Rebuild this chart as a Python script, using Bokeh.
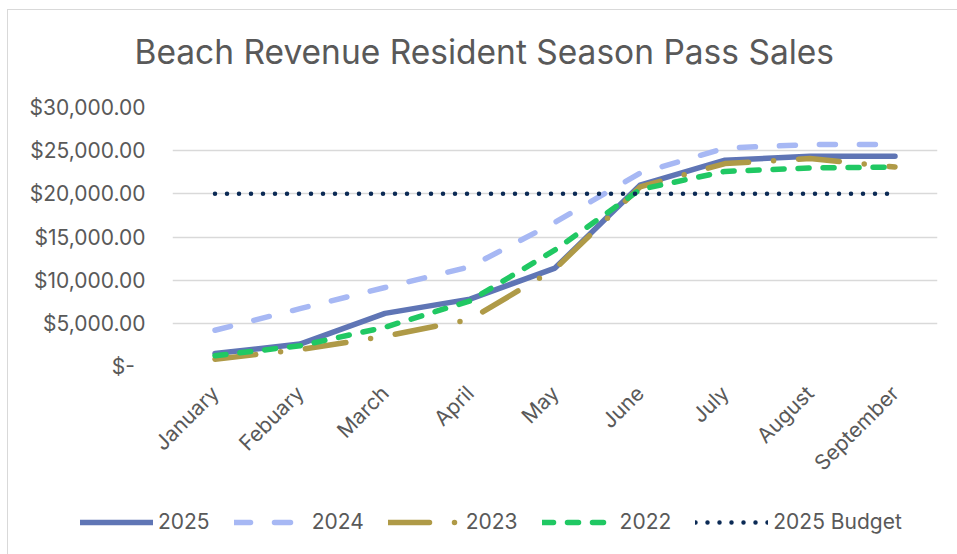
import math
from bokeh.plotting import figure
from bokeh.layouts import column
from bokeh.models import (FactorRange, Range1d, NumeralTickFormatter, Legend,
                          LegendItem, FixedTicker, Title)
from bokeh.embed import file_html
from bokeh.resources import INLINE

months = ["January", "Febuary", "March", "April", "May", "June", "July",
          "August", "September"]
s2025 = [1500, 2600, 6150, 7800, 11400, 21000, 23900, 24350, 24350]
s2024 = [4200, 6700, 9150, 11550, 16700, 22400, 25300, 25700, 25700]
s2023 = [850, 1950, 3500, 5450, 11300, 20800, 23500, 24100, 23100]
s2022 = [1250, 2400, 4550, 7600, 13500, 20500, 22600, 23000, 23100]
budget = [20000, 20000, 20000, 20000, 20000, 20000, 20000, 20000, 20000]
yticks = [0, 5000, 10000, 15000, 20000, 25000, 30000]

series = [
    ("2025", s2025, dict(line_color="#5F75B5", line_width=5.5)),
    ("2024", s2024, dict(line_color="#A7B8F4", line_width=5.5, line_dash="16 24")),
    ("2023", s2023, dict(line_color="#AF9A47", line_width=5.5, line_dash="41 25 0 25")),
    ("2022", s2022, dict(line_color="#20C863", line_width=5.5, line_dash="11 14")),
    ("2025 Budget", budget, dict(line_color="#0B2A55", line_width=4.5, line_dash="0 12")),
]

FONT = "Inter"
GREY = "#595959"

p = figure(x_range=FactorRange(*months), y_range=Range1d(0, 30000),
           width=949, height=490, output_backend="svg", toolbar_location=None,
           min_border_left=164, min_border_right=20, min_border_top=97,
           min_border_bottom=134)
p.frame_align = False
p.title.text = ""
p.outline_line_color = None
p.background_fill_color = "white"
p.border_fill_color = "white"

# blank spacer between the frame and the title
spacer = Title(text=" ", text_font=FONT, text_font_size="10px", standoff=17)
p.add_layout(spacer, "above")
t = Title(text="Beach Revenue Resident Season Pass Sales", align="left",
          offset=-38, standoff=10, text_font=FONT, text_font_size="33.5px",
          text_font_style="normal", text_color=GREY)
p.add_layout(t, "above")

p.xgrid.grid_line_color = None
p.ygrid.grid_line_color = "#D9D9D9"
p.ygrid.grid_line_width = 1.3
p.yaxis.ticker = FixedTicker(ticks=yticks)
p.yaxis.formatter = NumeralTickFormatter(format="$0,0.00")
p.yaxis.major_label_overrides = {0: "$-\u2002"}
for ax in (p.xaxis[0], p.yaxis[0]):
    ax.axis_line_color = None
    ax.major_tick_line_color = None
    ax.minor_tick_line_color = None
    ax.major_tick_in = 0
    ax.major_tick_out = 0
    ax.major_label_text_font = FONT
    ax.major_label_text_font_size = "21px"
    ax.major_label_text_color = GREY
p.yaxis.major_label_standoff = 27
p.xaxis.major_label_standoff = 23
p.xaxis.major_label_orientation = math.pi / 4

for name, ys, style in series:
    p.line(months, ys, line_join="round", line_cap="round", **style)

# legend strip below the chart (proxy lines fall outside its view)
lg = figure(x_range=FactorRange(*months), y_range=Range1d(-2, -1),
            width=949, height=54,
            output_backend="svg", toolbar_location=None,
            x_axis_location=None, y_axis_location=None,
            min_border_left=0, min_border_right=0, min_border_top=0,
            min_border_bottom=0)
lg.frame_align = False
lg.grid.grid_line_color = None
lg.outline_line_color = None
lg.border_fill_color = "white"
items = []
for name, ys, style in series:
    r = lg.line(months, ys, line_join="round", line_cap="round", **style)
    items.append(LegendItem(label=name, renderers=[r]))

legend = Legend(items=items, orientation="horizontal", location=(72, 20),
                label_text_font=FONT, label_text_font_size="21px",
                label_text_color=GREY, glyph_width=73, glyph_height=20,
                label_standoff=5, spacing=24, padding=0, margin=0,
                border_line_color=None, background_fill_alpha=0)
lg.add_layout(legend, "center")

layout = column(p, lg, spacing=0,
                styles={"margin-left": "7px", "margin-top": "9px",
                        "border-left": "1px solid #d9d9d9",
                        "border-top": "1px solid #d9d9d9"})

open("out.html", "w").write(file_html(layout, INLINE))
